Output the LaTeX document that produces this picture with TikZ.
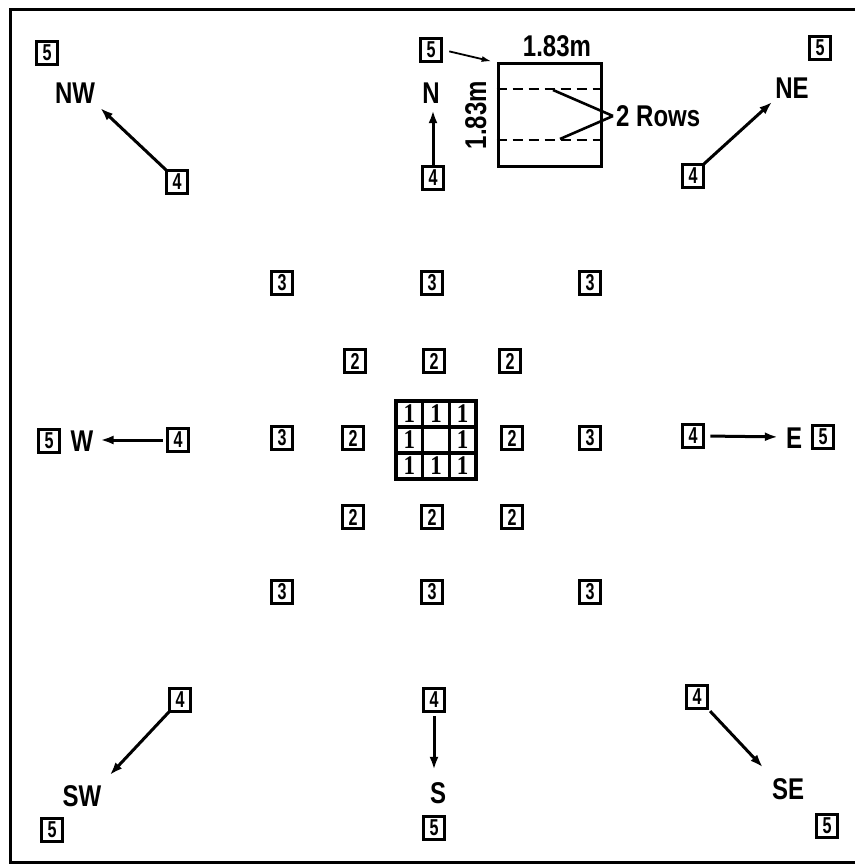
\documentclass[tikz,border=0pt]{standalone}
\usepackage{fontspec}
\setmainfont{Liberation Sans}
\newfontfamily\lblfnt{Liberation Sans}[FakeStretch=0.8]
\newfontfamily\numfnt{Liberation Sans}[FakeStretch=0.7]
\newfontfamily\onefnt{Liberation Serif}[FakeStretch=0.85]
\usetikzlibrary{arrows.meta}
\begin{document}
\begin{tikzpicture}[x=1pt,y=-1pt,
  numbox/.style={draw,line width=3.8pt,minimum width=21pt,minimum height=23pt,inner sep=0pt,
    font=\numfnt\bfseries\fontsize{23}{23}\selectfont},
  lbl/.style={inner sep=0pt,text height=22pt,text depth=0pt,
    font=\lblfnt\bfseries\fontsize{30}{30}\selectfont},
  onecell/.style={inner sep=0pt,font=\onefnt\bfseries\fontsize{27}{27}\selectfont},
  arr/.style={line width=3pt,-{Latex[length=13pt,width=9pt]}},
  thinarr/.style={line width=1.8pt,-{Latex[length=10pt,width=6pt]}},
  ptr/.style={line width=2.6pt},
  frame/.style={line width=3pt}]
\useasboundingbox (0,0) rectangle (855,864);
\draw[frame] (855,10) -- (10,10) -- (10,862) -- (855,862);

% outer boxes 5
\node[numbox] (nw5) at (47,53) {5};
\node[numbox] (n5) at (431,50) {5};
\node[numbox] (ne5) at (820,48) {5};
\node[numbox] (w5) at (49,441) {5};
\node[numbox] (e5) at (823,437) {5};
\node[numbox] (sw5) at (52,830) {5};
\node[numbox] (s5) at (434,828) {5};
\node[numbox] (se5) at (827,826) {5};

% boxes 4
\node[numbox] (nw4) at (177,182) {4};
\node[numbox] (n4) at (433,178) {4};
\node[numbox] (ne4) at (693,176) {4};
\node[numbox] (w4) at (178,440) {4};
\node[numbox] (e4) at (693,436) {4};
\node[numbox] (sw4) at (180,700) {4};
\node[numbox] (s4) at (434,700) {4};
\node[numbox] (se4) at (697,697) {4};

% direction labels
\node[lbl] (nwl) at (75,92) {NW};
\node[lbl] (nl) at (431,92) {N};
\node[lbl] (nel) at (792,88) {NE};
\node[lbl] (wl) at (82,440) {W};
\node[lbl] (el) at (794,437) {E};
\node[lbl] (swl) at (82,795) {SW};
\node[lbl] (sl) at (438,792) {S};
\node[lbl] (sel) at (788,788) {SE};

% arrows
\draw[arr,shorten >=7pt,shorten <=-3pt] (nw4.north west) -- (nwl.south east);
\draw[arr,shorten >=7pt] (n4.north) -- (n4.north |- nl.south);
\draw[arr,shorten >=4pt,shorten <=-2pt] (ne4.north east) -- (nel.south west);
\draw[arr,shorten >=7pt,shorten <=3pt] (w4.west) -- (wl.east);
\draw[arr,shorten >=8pt,shorten <=5pt] (e4.east) -- (el.west);
\draw[arr,shorten >=12pt,shorten <=-3pt] (sw4.south west) -- (swl.north east);
\draw[arr,shorten >=11pt,shorten <=3pt] (s4.south) -- (s4.south |- sl.north);
\draw[arr,shorten >=13pt,shorten <=1pt] (se4.south east) -- (sel.north west);

% boxes 3
\node[numbox] (t1) at (282,283) {3};
\node[numbox] (t2) at (432,283) {3};
\node[numbox] (t3) at (590,283) {3};
\node[numbox] (t4) at (282,438) {3};
\node[numbox] (t5) at (590,438) {3};
\node[numbox] (t6) at (282,592) {3};
\node[numbox] (t7) at (432,592) {3};
\node[numbox] (t8) at (590,592) {3};

% boxes 2
\node[numbox] (d1) at (355,361) {2};
\node[numbox] (d2) at (434,361) {2};
\node[numbox] (d3) at (510,361) {2};
\node[numbox] (d4) at (353,438) {2};
\node[numbox] (d5) at (512,438) {2};
\node[numbox] (d6) at (353,517) {2};
\node[numbox] (d7) at (432,517) {2};
\node[numbox] (d8) at (512,517) {2};

% centre grid of 1s
\draw[line width=3.4pt] (396,401) rectangle (476,479);
\draw[line width=3.4pt] (422.7,401) -- (422.7,479) (449.3,401) -- (449.3,479)
  (396,427) -- (476,427) (396,453) -- (476,453);
\node[onecell] (c11) at (409.3,414) {1};
\node[onecell] (c12) at (436,414) {1};
\node[onecell] (c13) at (462.7,414) {1};
\node[onecell] (c21) at (409.3,440) {1};
\node[onecell] (c23) at (462.7,440) {1};
\node[onecell] (c31) at (409.3,466) {1};
\node[onecell] (c32) at (436,466) {1};
\node[onecell] (c33) at (462.7,466) {1};

% plot inset
\node[draw,line width=3pt,minimum width=103pt,minimum height=102pt,inner sep=0pt] (plot) at (549.5,115) {};
\draw[line width=2.4pt,dash pattern=on 10pt off 6pt] (plot.west |- 0,89) -- (plot.east |- 0,89);
\draw[line width=2.4pt,dash pattern=on 10pt off 6pt] (plot.west |- 0,140) -- (plot.east |- 0,140);
\node[lbl] (wtop) at (557,46) {1.83m};
\node[lbl,rotate=90] (wside) at (475,115) {1.83m};
\node[lbl,anchor=west] (rows) at (616,116) {2 Rows};
\coordinate (r1) at (553,90);
\coordinate (r2) at (560,139);
\draw[ptr] (r1) -- ([xshift=-3pt]rows.west);
\draw[ptr] (r2) -- ([xshift=-3pt]rows.west);
\draw[thinarr,shorten <=6pt,shorten >=5pt] (n5.east) -- (plot.north west);
\end{tikzpicture}
\end{document}
